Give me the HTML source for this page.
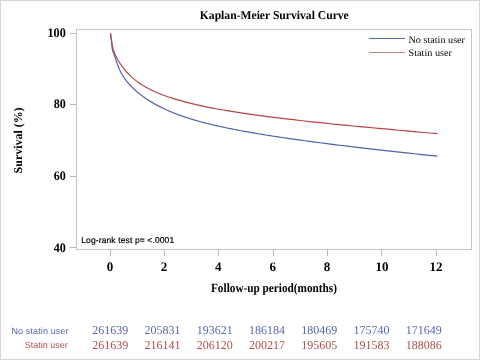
<!DOCTYPE html>
<html><head><meta charset="utf-8"><style>
html,body{margin:0;padding:0;background:#fff;}
body{width:480px;height:360px;overflow:hidden;position:relative;}
svg{position:absolute;left:0;top:0;will-change:transform;}
text{text-rendering:geometricPrecision;}
</style></head><body>
<svg width="480" height="360" viewBox="0 0 480 360">
<rect x="0.5" y="0.5" width="479" height="359" fill="#fff" stroke="#d6d6d6" stroke-width="1"/>
<g font-family="Liberation Serif" font-weight="bold" font-size="12" fill="#000">
<text x="199.8" y="19.3" textLength="149" lengthAdjust="spacingAndGlyphs">Kaplan-Meier Survival Curve</text>
</g>
<rect x="76.5" y="29.5" width="395" height="220" fill="none" stroke="#c2c6ca" stroke-width="1"/>
<g stroke="#b4babe" stroke-width="1">
<line x1="70" y1="33.5" x2="76" y2="33.5"/>
<line x1="70" y1="104.5" x2="76" y2="104.5"/>
<line x1="70" y1="176.5" x2="76" y2="176.5"/>
<line x1="70" y1="247.5" x2="76" y2="247.5"/>
<line x1="110.5" y1="250" x2="110.5" y2="256"/>
<line x1="164.5" y1="250" x2="164.5" y2="256"/>
<line x1="218.5" y1="250" x2="218.5" y2="256"/>
<line x1="273.5" y1="250" x2="273.5" y2="256"/>
<line x1="327.5" y1="250" x2="327.5" y2="256"/>
<line x1="381.5" y1="250" x2="381.5" y2="256"/>
<line x1="436.5" y1="250" x2="436.5" y2="256"/>
</g>
<g font-family="Liberation Serif" font-weight="bold" font-size="13" fill="#000" text-anchor="end" transform="translate(0,0)">
<text x="65.8" y="36.8" textLength="18.4" lengthAdjust="spacingAndGlyphs">100</text>
<text x="65.8" y="108.4" textLength="12.1" lengthAdjust="spacingAndGlyphs">80</text>
<text x="65.8" y="180" textLength="12.1" lengthAdjust="spacingAndGlyphs">60</text>
<text x="65.8" y="251.85" textLength="12.1" lengthAdjust="spacingAndGlyphs">40</text>
</g>
<g font-family="Liberation Serif" font-weight="bold" font-size="13" fill="#000" text-anchor="middle">
<text x="109.9" y="270.9">0</text>
<text x="163.9" y="270.9">2</text>
<text x="218.2" y="270.9">4</text>
<text x="272.7" y="270.9">6</text>
<text x="327" y="270.9">8</text>
<text x="381.9" y="270.9">10</text>
<text x="436.0" y="270.9">12</text>
</g>
<g font-family="Liberation Serif" font-weight="bold" font-size="12.5" fill="#000">
<text x="211" y="292.0" textLength="126" lengthAdjust="spacingAndGlyphs">Follow-up period(months)</text>
</g>
<g font-family="Liberation Serif" font-weight="bold" font-size="12" fill="#000" transform="translate(22,173.4) rotate(-90)">
<text x="0" y="0" textLength="66" lengthAdjust="spacingAndGlyphs">Survival (%)</text>
</g>
<g font-family="Liberation Sans" font-size="8.5" fill="#000" stroke="#000" stroke-width="0.2">
<text x="81.2" y="243.3" textLength="93" lengthAdjust="spacing">Log-rank test p= &lt;.0001</text>
</g>
<line x1="369" y1="38.5" x2="405" y2="38.5" stroke="#5868ac" stroke-width="1"/>
<line x1="369" y1="52.5" x2="405" y2="52.5" stroke="#c88282" stroke-width="1"/>
<g font-family="Liberation Serif" font-size="10" fill="#000">
<text x="408.5" y="42.8" textLength="56.5" lengthAdjust="spacingAndGlyphs">No statin user</text>
<text x="408.5" y="56.2" textLength="43.5" lengthAdjust="spacingAndGlyphs">Statin user</text>
</g>
<path d="M110.40,33.20 L110.42,33.25 L110.45,33.31 L110.47,33.39 L110.49,33.49 L110.52,33.60 L110.54,33.72 L110.57,33.85 L110.60,34.00 L110.62,34.15 L110.65,34.32 L110.68,34.49 L110.71,34.67 L110.74,34.86 L110.77,35.05 L110.80,35.25 L110.84,35.45 L110.87,35.66 L110.90,35.87 L110.94,36.09 L110.97,36.32 L111.01,36.57 L111.05,36.84 L111.09,37.12 L111.13,37.42 L111.17,37.75 L111.21,38.09 L111.25,38.45 L111.30,38.84 L111.34,39.25 L111.39,39.68 L111.43,40.14 L111.48,40.62 L111.53,41.17 L111.58,41.91 L111.63,42.78 L111.69,43.67 L111.74,44.50 L111.80,45.19 L111.86,45.76 L111.92,46.29 L111.98,46.80 L112.04,47.28 L112.10,47.73 L112.17,48.17 L112.23,48.58 L112.30,48.97 L112.37,49.34 L112.44,49.70 L112.52,50.05 L112.59,50.38 L112.67,50.69 L112.75,50.98 L112.83,51.26 L112.91,51.52 L113.00,51.78 L113.08,52.03 L113.17,52.28 L113.27,52.52 L113.36,52.76 L113.46,53.01 L113.56,53.26 L113.66,53.52 L113.76,53.79 L113.87,54.07 L113.98,54.37 L114.09,54.67 L114.20,54.99 L114.32,55.31 L114.44,55.63 L114.56,55.97 L114.69,56.31 L114.82,56.67 L114.95,57.03 L115.09,57.41 L115.23,57.80 L115.37,58.20 L115.52,58.63 L115.67,59.09 L115.82,59.56 L115.98,60.05 L116.14,60.54 L116.31,61.04 L116.48,61.55 L116.65,62.06 L116.83,62.59 L117.02,63.13 L117.20,63.67 L117.40,64.22 L117.59,64.78 L117.80,65.33 L118.00,65.88 L118.22,66.43 L118.43,66.97 L118.66,67.51 L118.89,68.06 L119.12,68.60 L119.36,69.15 L119.61,69.69 L119.86,70.23 L120.12,70.77 L120.38,71.31 L120.66,71.85 L120.93,72.38 L121.22,72.92 L121.51,73.45 L121.81,73.99 L122.12,74.52 L122.44,75.05 L122.76,75.59 L123.09,76.12 L123.43,76.65 L123.78,77.19 L124.13,77.72 L124.50,78.26 L124.88,78.79 L125.26,79.32 L125.65,79.86 L126.06,80.39 L126.47,80.93 L126.89,81.47 L127.33,82.01 L127.77,82.55 L128.23,83.09 L128.70,83.64 L129.18,84.18 L129.67,84.73 L130.17,85.27 L130.69,85.82 L131.22,86.37 L131.76,86.93 L132.32,87.48 L132.89,88.04 L133.47,88.60 L134.07,89.17 L134.69,89.73 L135.32,90.30 L135.96,90.87 L136.62,91.44 L137.30,92.02 L138.00,92.59 L138.71,93.17 L139.44,93.76 L140.19,94.35 L140.95,94.94 L141.74,95.53 L142.54,96.13 L143.37,96.73 L144.22,97.34 L145.08,97.95 L145.97,98.56 L146.88,99.17 L147.82,99.78 L148.77,100.40 L149.76,101.02 L150.76,101.63 L151.79,102.26 L152.85,102.88 L153.93,103.51 L155.04,104.13 L156.18,104.76 L157.35,105.39 L158.54,106.02 L159.77,106.65 L161.02,107.28 L162.31,107.91 L163.63,108.55 L164.98,109.18 L166.37,109.81 L167.79,110.45 L169.25,111.08 L170.74,111.71 L172.27,112.35 L173.84,112.98 L175.45,113.61 L177.09,114.24 L178.78,114.87 L180.52,115.50 L182.29,116.13 L184.11,116.75 L185.97,117.38 L187.88,118.00 L189.84,118.62 L191.85,119.24 L193.91,119.86 L196.02,120.48 L198.18,121.09 L200.39,121.71 L202.66,122.32 L204.99,122.92 L207.38,123.53 L209.82,124.13 L212.33,124.73 L214.90,125.34 L217.53,125.93 L220.23,126.53 L223.00,127.13 L225.84,127.74 L228.74,128.34 L231.72,128.94 L234.78,129.53 L237.91,130.13 L241.11,130.74 L244.40,131.34 L247.77,131.94 L251.23,132.55 L254.77,133.17 L258.40,133.78 L262.12,134.40 L265.93,135.02 L269.84,135.64 L273.85,136.26 L277.96,136.89 L282.16,137.52 L286.48,138.16 L290.90,138.80 L295.43,139.44 L300.08,140.09 L304.84,140.75 L309.72,141.41 L314.72,142.08 L319.85,142.75 L325.11,143.43 L330.50,144.11 L336.02,144.81 L341.68,145.51 L347.48,146.21 L353.43,146.93 L359.52,147.65 L365.77,148.38 L372.17,149.12 L378.73,149.86 L385.46,150.62 L392.36,151.38 L399.42,152.16 L406.67,152.94 L414.09,153.74 L421.70,154.55 L429.50,155.37 L437.50,156.20" fill="none" stroke="#5062aa" stroke-width="1.2" shape-rendering="auto"/>
<path d="M110.40,33.20 L110.42,33.31 L110.45,33.44 L110.47,33.57 L110.49,33.72 L110.52,33.87 L110.54,34.03 L110.57,34.19 L110.60,34.37 L110.62,34.55 L110.65,34.74 L110.68,34.93 L110.71,35.13 L110.74,35.33 L110.77,35.54 L110.80,35.76 L110.84,35.98 L110.87,36.20 L110.90,36.43 L110.94,36.67 L110.97,36.92 L111.01,37.19 L111.05,37.48 L111.09,37.77 L111.13,38.08 L111.17,38.39 L111.21,38.71 L111.25,39.04 L111.30,39.37 L111.34,39.70 L111.39,40.03 L111.43,40.36 L111.48,40.68 L111.53,41.00 L111.58,41.33 L111.63,41.65 L111.69,41.98 L111.74,42.32 L111.80,42.66 L111.86,42.99 L111.92,43.33 L111.98,43.67 L112.04,44.01 L112.10,44.35 L112.17,44.69 L112.23,45.03 L112.30,45.36 L112.37,45.70 L112.44,46.03 L112.52,46.37 L112.59,46.70 L112.67,47.04 L112.75,47.37 L112.83,47.70 L112.91,48.04 L113.00,48.37 L113.08,48.69 L113.17,49.02 L113.27,49.34 L113.36,49.66 L113.46,49.98 L113.56,50.30 L113.66,50.61 L113.76,50.93 L113.87,51.24 L113.98,51.55 L114.09,51.86 L114.20,52.17 L114.32,52.48 L114.44,52.80 L114.56,53.11 L114.69,53.42 L114.82,53.74 L114.95,54.06 L115.09,54.38 L115.23,54.70 L115.37,55.02 L115.52,55.34 L115.67,55.66 L115.82,55.98 L115.98,56.30 L116.14,56.62 L116.31,56.95 L116.48,57.28 L116.65,57.61 L116.83,57.94 L117.02,58.28 L117.20,58.62 L117.40,58.96 L117.59,59.31 L117.80,59.66 L118.00,60.02 L118.22,60.38 L118.43,60.74 L118.66,61.11 L118.89,61.48 L119.12,61.86 L119.36,62.24 L119.61,62.63 L119.86,63.02 L120.12,63.42 L120.38,63.83 L120.66,64.24 L120.93,64.65 L121.22,65.07 L121.51,65.49 L121.81,65.92 L122.12,66.34 L122.44,66.78 L122.76,67.22 L123.09,67.66 L123.43,68.11 L123.78,68.56 L124.13,69.01 L124.50,69.47 L124.88,69.93 L125.26,70.39 L125.65,70.86 L126.06,71.33 L126.47,71.80 L126.89,72.28 L127.33,72.76 L127.77,73.24 L128.23,73.72 L128.70,74.20 L129.18,74.69 L129.67,75.18 L130.17,75.67 L130.69,76.16 L131.22,76.65 L131.76,77.15 L132.32,77.65 L132.89,78.14 L133.47,78.64 L134.07,79.14 L134.69,79.64 L135.32,80.14 L135.96,80.64 L136.62,81.14 L137.30,81.65 L138.00,82.15 L138.71,82.65 L139.44,83.15 L140.19,83.66 L140.95,84.16 L141.74,84.66 L142.54,85.17 L143.37,85.67 L144.22,86.17 L145.08,86.67 L145.97,87.18 L146.88,87.68 L147.82,88.18 L148.77,88.68 L149.76,89.19 L150.76,89.69 L151.79,90.19 L152.85,90.69 L153.93,91.19 L155.04,91.70 L156.18,92.20 L157.35,92.70 L158.54,93.20 L159.77,93.70 L161.02,94.20 L162.31,94.70 L163.63,95.20 L164.98,95.70 L166.37,96.20 L167.79,96.70 L169.25,97.20 L170.74,97.69 L172.27,98.19 L173.84,98.69 L175.45,99.19 L177.09,99.68 L178.78,100.18 L180.52,100.67 L182.29,101.17 L184.11,101.66 L185.97,102.16 L187.88,102.65 L189.84,103.14 L191.85,103.63 L193.91,104.13 L196.02,104.62 L198.18,105.11 L200.39,105.60 L202.66,106.09 L204.99,106.57 L207.38,107.06 L209.82,107.55 L212.33,108.04 L214.90,108.52 L217.53,109.01 L220.23,109.49 L223.00,109.98 L225.84,110.46 L228.74,110.95 L231.72,111.44 L234.78,111.92 L237.91,112.41 L241.11,112.90 L244.40,113.39 L247.77,113.88 L251.23,114.37 L254.77,114.87 L258.40,115.37 L262.12,115.87 L265.93,116.37 L269.84,116.88 L273.85,117.39 L277.96,117.89 L282.16,118.41 L286.48,118.92 L290.90,119.44 L295.43,119.96 L300.08,120.49 L304.84,121.02 L309.72,121.56 L314.72,122.10 L319.85,122.64 L325.11,123.19 L330.50,123.74 L336.02,124.30 L341.68,124.87 L347.48,125.44 L353.43,126.01 L359.52,126.58 L365.77,127.16 L372.17,127.75 L378.73,128.35 L385.46,128.96 L392.36,129.59 L399.42,130.23 L406.67,130.89 L414.09,131.57 L421.70,132.27 L429.50,132.98 L437.50,133.70" fill="none" stroke="#b34646" stroke-width="1.2" shape-rendering="auto"/>
<g font-family="Liberation Sans" font-size="9" stroke-width="0">
<text x="11.5" y="333.7" textLength="57" lengthAdjust="spacing" fill="#5868ac" stroke="#5868ac">No statin user</text>
<text x="24.8" y="348" textLength="43" lengthAdjust="spacing" fill="#b24e4e" stroke="#b24e4e">Statin user</text>
</g>
<g font-family="Liberation Serif" font-size="12" text-anchor="middle" fill="#5868ac">
<text x="110.20" y="334">261639</text>
<text x="162.45" y="334">205831</text>
<text x="214.70" y="334">193621</text>
<text x="266.95" y="334">186184</text>
<text x="319.20" y="334">180469</text>
<text x="371.45" y="334">175740</text>
<text x="423.70" y="334">171649</text>
</g>
<g font-family="Liberation Serif" font-size="12" text-anchor="middle" fill="#b24e4e">
<text x="110.20" y="349">261639</text>
<text x="162.45" y="349">216141</text>
<text x="214.70" y="349">206120</text>
<text x="266.95" y="349">200217</text>
<text x="319.20" y="349">195605</text>
<text x="371.45" y="349">191583</text>
<text x="423.70" y="349">188086</text>
</g>
</svg>
</body></html>
